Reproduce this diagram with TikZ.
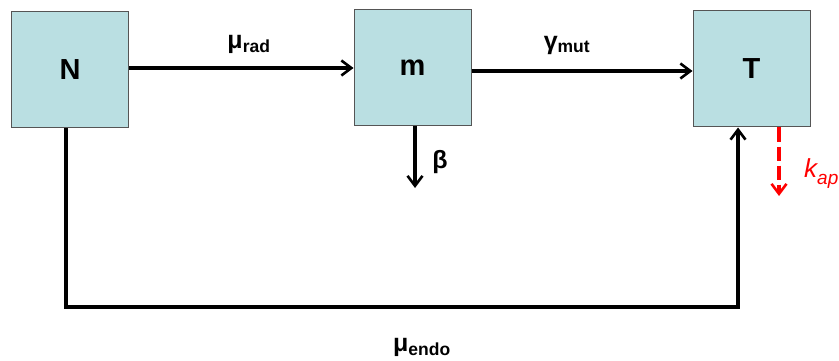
\documentclass[tikz,border=0pt]{standalone}
\usepackage{fontspec}
\setmainfont{Liberation Sans}
\usetikzlibrary{arrows.meta}
\definecolor{boxfill}{HTML}{BADFE2}
\definecolor{boxline}{HTML}{555555}
\begin{document}
\begin{tikzpicture}[x=1pt,y=-1pt,
  comp/.style={draw=boxline,line width=1pt,fill=boxfill,minimum width=117pt,minimum height=116pt,inner sep=0pt,font=\fontsize{29}{29}\selectfont\bfseries},
  flow/.style={line width=3.2pt,-{Straight Barb[length=10pt,width=15pt,line width=2.6pt]}},
  rate/.style={font=\fontsize{25}{25}\selectfont\bfseries},
  lossred/.style={red,line width=3.2pt,dash pattern=on 14pt off 5pt,-{Straight Barb[length=10pt,width=15pt,line width=2.6pt]}}]
\useasboundingbox (0,0) rectangle (839,361);
\node[comp] (N) at (70,70) {N};
\node[comp] (m) at (412.5,67.5) {m};
\node[comp] (T) at (751.5,69) {T};
\draw[flow] (N.east |- 0,68) -- (m.west |- 0,68);
\draw[flow] (m.east |- 0,71) -- (T.west |- 0,71);
\coordinate (mb) at (415,188);
\draw[flow] (m.south -| mb) -- (mb);
\coordinate (fb1) at (66,307);
\coordinate (fb2) at (738,307);
\draw[flow] (N.south -| fb1) -- (fb1) -- (fb2) -- (T.south -| fb2);
\coordinate (kb) at (779,196);
\draw[lossred] (T.south -| kb) -- (kb);
\node[rate] (lrad) at (249,44) {μ\textsubscript{rad}};
\node[rate] (lmut) at (567,45) {γ\textsubscript{mut}};
\node[rate] (lbeta) at (440,162) {β};
\node[rate] (lendo) at (422,347) {μ\textsubscript{endo}};
\node[red,font=\fontsize{26}{26}\selectfont\itshape,anchor=base west,inner sep=0pt] (lkap) at (804,177) {k\raisebox{-7pt}{\fontsize{19}{19}\selectfont ap}};
\end{tikzpicture}
\end{document}
